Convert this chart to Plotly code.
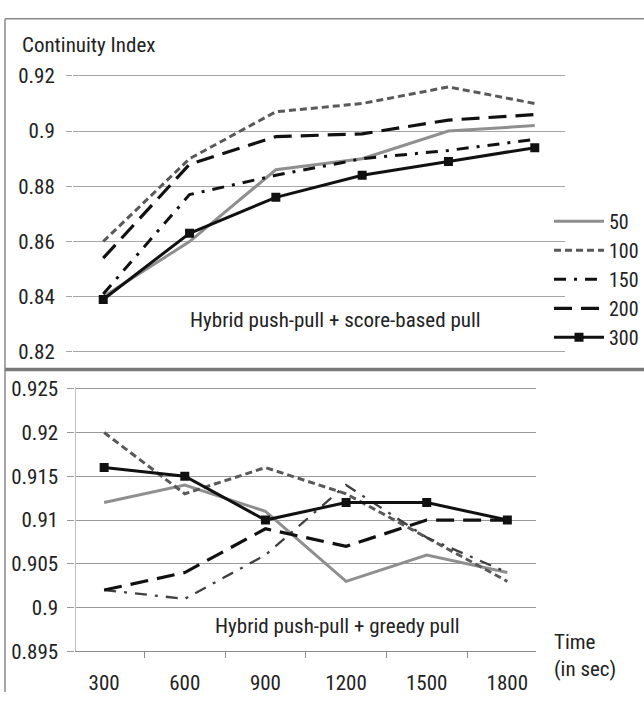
import plotly.graph_objects as go

times = ["300", "600", "900", "1200", "1500", "1800"]
series_names = ["50", "100", "150", "200", "300"]

# Top panel: Hybrid push-pull + score-based pull
top_50 = [0.840, 0.860, 0.886, 0.890, 0.900, 0.902]
top_100 = [0.860, 0.890, 0.907, 0.910, 0.916, 0.910]
top_150 = [0.841, 0.877, 0.884, 0.890, 0.893, 0.897]
top_200 = [0.854, 0.888, 0.898, 0.899, 0.904, 0.906]
top_300 = [0.839, 0.863, 0.876, 0.884, 0.889, 0.894]

# Bottom panel: Hybrid push-pull + greedy pull
bot_50 = [0.912, 0.914, 0.911, 0.903, 0.906, 0.904]
bot_100 = [0.920, 0.913, 0.916, 0.913, 0.908, 0.903]
bot_150 = [0.902, 0.901, 0.906, 0.914, 0.908, 0.904]
bot_200 = [0.902, 0.904, 0.909, 0.907, 0.910, 0.910]
bot_300 = [0.916, 0.915, 0.910, 0.912, 0.912, 0.910]

top_ticks = [0.82, 0.84, 0.86, 0.88, 0.90, 0.92]
top_ticktext = ["0.82", "0.84", "0.86", "0.88", "0.9", "0.92"]
bot_ticks = [0.895, 0.900, 0.905, 0.910, 0.915, 0.920, 0.925]
bot_ticktext = ["0.895", "0.9", "0.905", "0.91", "0.915", "0.92", "0.925"]

FONT = "Liberation Sans Narrow, Arial Narrow, Roboto Condensed, Liberation Sans, sans-serif"
W, H = 644, 704

styles = {
    "50": dict(color="#8f8f8f", width=3, dash="solid"),
    "100": dict(color="#595959", width=3, dash="7px,4px"),
    "150": dict(color="#111111", width=3, dash="12px,8px,3px,8px"),
    "200": dict(color="#111111", width=3.2, dash="18px,9px"),
    "300": dict(color="#111111", width=3, dash="solid"),
}

fig = go.Figure()
top_data = [top_50, top_100, top_150, top_200, top_300]
bot_data = [bot_50, bot_100, bot_150, bot_200, bot_300]
for name, vals in zip(series_names, top_data):
    st = styles[name]
    fig.add_trace(go.Scatter(
        x=times, y=vals, name=name, xaxis="x", yaxis="y",
        mode="lines+markers" if name == "300" else "lines",
        line=dict(color=st["color"], width=st["width"], dash=st["dash"]),
        marker=dict(symbol="square", size=9, color="#111111"),
    ))
for name, vals in zip(series_names, bot_data):
    st = dict(styles[name])
    if name == "150":
        st["color"] = "#404040"
        st["width"] = 2.3
    fig.add_trace(go.Scatter(
        x=times, y=vals, name=name, xaxis="x2", yaxis="y2", showlegend=False,
        mode="lines+markers" if name == "300" else "lines",
        line=dict(color=st["color"], width=st["width"], dash=st["dash"]),
        marker=dict(symbol="square", size=9, color="#111111"),
    ))

def px_x(p):
    return p / W

def px_y(p):
    return 1 - p / H

grid = "#a6a6a6"
fig.update_layout(
    width=W, height=H,
    margin=dict(l=0, r=0, t=0, b=0),
    paper_bgcolor="white", plot_bgcolor="white",
    font=dict(family=FONT, size=21, color="#222222"),
    xaxis=dict(domain=[px_x(73), px_x(565)], type="category", showticklabels=False,
               showgrid=False, showline=False, ticks="", anchor="y", fixedrange=True),
    yaxis=dict(domain=[px_y(354.4), px_y(66.6)], range=[0.8195, 0.9205],
               tickvals=top_ticks, ticktext=top_ticktext, showgrid=True,
               gridcolor=grid, gridwidth=1, zeroline=False, showline=False,
               ticks="outside", ticklen=6, tickcolor=grid, ticklabelstandoff=7,
               anchor="x"),
    xaxis2=dict(domain=[px_x(75.5), px_x(536)], type="category", showgrid=False,
                showline=True, linecolor="#8c8c8c", linewidth=1.3,
                ticks="outside", tickson="boundaries", ticklen=6, tickcolor="#8c8c8c",
                ticklabelstandoff=12, anchor="y2"),
    yaxis2=dict(domain=[px_y(662), px_y(389.2)], range=[0.895, 0.9252],
                tickvals=bot_ticks, ticktext=bot_ticktext, showgrid=True,
                gridcolor="#999999", gridwidth=1.3, zeroline=False,
                showline=True, linecolor="#c0c0c0", linewidth=1.3,
                ticks="outside", ticklen=7, tickcolor="#999999", ticklabelstandoff=5,
                anchor="x2"),
    legend=dict(x=px_x(549), y=px_y(198), xanchor="left", yanchor="top",
                font=dict(family=FONT, size=20, color="#222222"),
                bgcolor="rgba(0,0,0,0)", itemwidth=50, tracegroupgap=0),
    showlegend=True,
)

fig.add_annotation(text="Continuity Index", xref="paper", yref="paper",
                   x=px_x(20), y=px_y(36), xanchor="left", yanchor="middle",
                   showarrow=False, font=dict(size=21))
fig.add_annotation(text="Hybrid push-pull + score-based pull", xref="paper", yref="paper",
                   x=px_x(335), y=px_y(320), xanchor="center", yanchor="middle",
                   showarrow=False, font=dict(size=21))
fig.add_annotation(text="Hybrid push-pull + greedy pull", xref="paper", yref="paper",
                   x=px_x(337), y=px_y(636), xanchor="center", yanchor="middle",
                   showarrow=False, font=dict(size=21))
fig.add_annotation(text="Time<br>(in sec)", xref="paper", yref="paper",
                   x=px_x(552), y=px_y(666), xanchor="left", yanchor="middle",
                   align="left", showarrow=False, font=dict(size=21))

# panel borders
border = "#8a8a8a"
fig.add_shape(type="line", xref="paper", yref="paper", x0=px_x(5), x1=1.0,
              y0=px_y(9), y1=px_y(9), line=dict(color=border, width=1.5))
fig.add_shape(type="line", xref="paper", yref="paper", x0=px_x(5), x1=px_x(5),
              y0=px_y(9), y1=0, line=dict(color=border, width=1.5))
fig.add_shape(type="line", xref="paper", yref="paper", x0=px_x(5), x1=1.0,
              y0=px_y(371), y1=px_y(371), line=dict(color="#7a7a7a", width=3.5))

fig.write_html("out.html")
